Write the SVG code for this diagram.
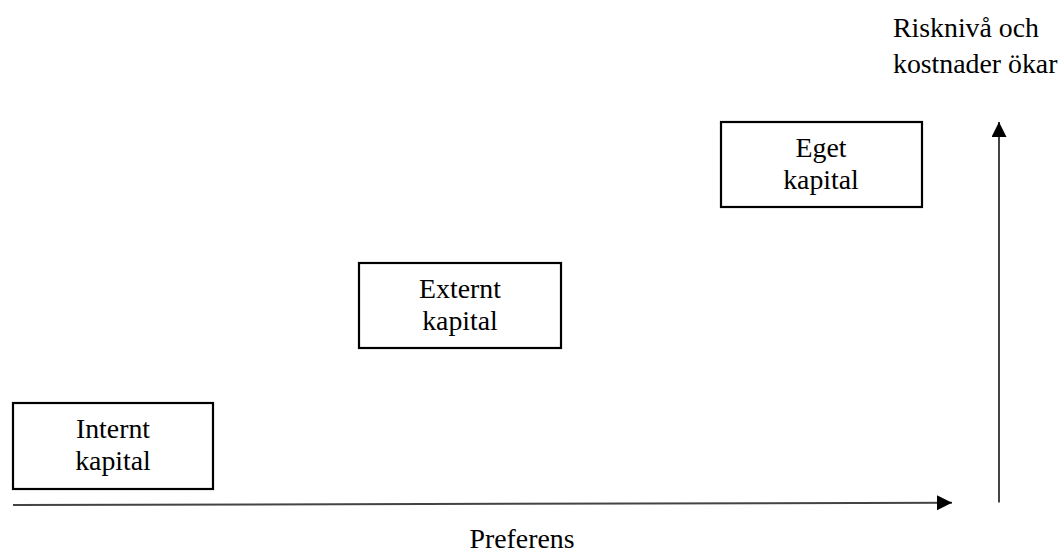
<svg xmlns="http://www.w3.org/2000/svg" width="1063" height="555" viewBox="0 0 1063 555">
<style>
.box{fill:#fff;stroke:#000;stroke-width:2.2}
.t{font-family:"Liberation Serif","Times New Roman",serif;font-size:27.8px;fill:#000}
.c{text-anchor:middle}
.ln{stroke:#444;stroke-width:2;fill:none}
</style>
<defs>
<marker id="ah" markerUnits="userSpaceOnUse" markerWidth="16" markerHeight="16" refX="15" refY="7.5" orient="auto">
<path d="M0,0 L15,7.5 L0,15 Z" fill="#000"/>
</marker>
</defs>
<rect width="1063" height="555" fill="#fff"/>
<g id="connectors">
<path class="ln" d="M13,505 L952,502.7" marker-end="url(#ah)"/>
<path class="ln" d="M999,502.5 L999,122" marker-end="url(#ah)"/>
</g>
<g id="internt">
<rect class="box" x="13" y="403" width="200" height="86"/>
<text class="t c" x="113" y="438">Internt</text>
<text class="t c" x="113" y="470">kapital</text>
</g>
<g id="externt">
<rect class="box" x="359" y="263" width="202" height="85"/>
<text class="t c" x="460" y="298">Externt</text>
<text class="t c" x="460" y="330">kapital</text>
</g>
<g id="eget">
<rect class="box" x="721" y="122" width="201" height="85"/>
<text class="t c" x="821" y="157">Eget</text>
<text class="t c" x="821" y="189">kapital</text>
</g>
<g id="axis-labels">
<text class="t" x="893" y="37">Risknivå och</text>
<text class="t" x="893" y="73">kostnader ökar</text>
<text class="t c" x="522" y="548">Preferens</text>
</g>
</svg>
